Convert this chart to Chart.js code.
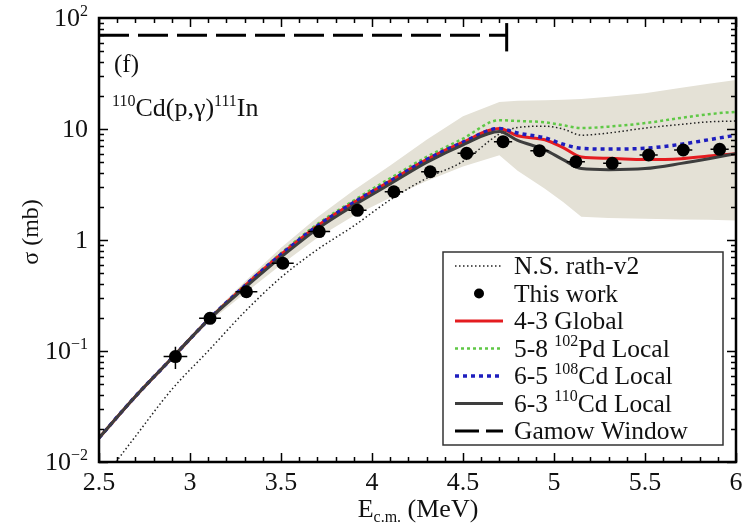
<!DOCTYPE html>
<html>
<head>
<meta charset="utf-8">
<script src="https://cdn.jsdelivr.net/npm/chart.js@4.4.0/dist/chart.umd.min.js"></script>
<style>
  body { margin: 0; background: #fff; }
  #wrap { width: 753px; height: 524px; }
</style>
</head>
<body>
<div id="wrap"><canvas id="sigma" width="753" height="524"></canvas></div>
<script>
// energy grid (MeV, c.m.) shared by the model curves
const energies = [2.5, 2.7, 2.9, 3.1, 3.3, 3.5, 3.7, 3.9, 4.1, 4.3, 4.5, 4.7, 4.8, 4.95, 5.05, 5.15, 5.3, 5.5, 5.7, 5.85, 6.0];

// cross sections in mb
const rathV2     = [0.0063, 0.017, 0.045, 0.10, 0.225, 0.46, 0.82, 1.34, 2.3, 3.6, 5.1, 9.0, 10.3, 10.6, 10.0, 8.8, 9.2, 10.2, 11.0, 11.6, 11.8];
const global43   = [0.0165, 0.039, 0.086, 0.19, 0.385, 0.74, 1.34, 2.18, 3.4, 5.3, 7.6, 10.1, 8.7, 8.0, 6.8, 5.6, 5.45, 5.3, 5.4, 5.7, 6.0];
const pd102Local = [0.0165, 0.039, 0.086, 0.19, 0.39, 0.76, 1.39, 2.27, 3.6, 5.6, 8.2, 12.0, 11.8, 11.5, 10.8, 10.2, 10.5, 11.3, 12.6, 13.6, 14.3];
const cd108Local = [0.0165, 0.039, 0.086, 0.19, 0.385, 0.74, 1.34, 2.18, 3.4, 5.3, 7.6, 10.1, 9.2, 8.3, 7.3, 6.7, 6.6, 6.7, 7.3, 8.0, 8.8];
const cd110Local = [0.0165, 0.039, 0.086, 0.19, 0.37, 0.70, 1.26, 2.05, 3.2, 5.0, 7.2, 9.5, 7.9, 6.5, 5.3, 4.4, 4.3, 4.4, 4.9, 5.4, 6.0];
const bandUpper  = [0.0165, 0.039, 0.088, 0.20, 0.42, 0.85, 1.6, 2.8, 4.7, 8.0, 13.0, 17.5, 18.0, 18.2, 18.3, 18.6, 19.5, 21.0, 23.5, 25.5, 27.6];
const bandLower  = [0.0165, 0.038, 0.084, 0.18, 0.33, 0.60, 1.05, 1.65, 2.4, 3.4, 4.6, 5.8, 4.2, 2.9, 2.2, 1.62, 1.58, 1.55, 1.53, 1.52, 1.5];

// measured points
const expEnergy    = [2.92, 3.11, 3.31, 3.51, 3.71, 3.92, 4.12, 4.32, 4.52, 4.72, 4.92, 5.12, 5.32, 5.52, 5.71, 5.91];
const expSigma     = [0.089, 0.197, 0.342, 0.617, 1.19, 1.85, 2.72, 4.12, 6.04, 7.69, 6.38, 5.07, 4.91, 5.83, 6.47, 6.56];
const expEnergyErr = [0.065, 0.06, 0.06, 0.06, 0.06, 0.05, 0.05, 0.05, 0.05, 0.05, 0.05, 0.05, 0.05, 0.05, 0.05, 0.05];
const expSigmaErr  = [0.02, 0.02, 0.03, 0.05, 0.08, 0.12, 0.17, 0.25, 0.35, 0.45, 0.4, 0.3, 0.3, 0.35, 0.4, 0.4];

// Gamow window marker
const gamowEnergy = [2.5, 4.74];
const gamowSigma  = [70, 70];
const gamowEdgeE  = [4.74, 4.74];
const gamowEdgeS  = [50, 90];

const xTicks = [2.5, 3, 3.5, 4, 4.5, 5, 5.5, 6];
const xTickLabels = ['2.5', '3', '3.5', '4', '4.5', '5', '5.5', '6'];
const yTicks = [0.01, 0.1, 1, 10, 100];
const yTickLabels = [
  [['10', ''], ['\u22122', 'sup']],
  [['10', ''], ['\u22121', 'sup']],
  [['1', '']],
  [['10', '']],
  [['10', ''], ['2', 'sup']]
];

const SERIF = '"Liberation Serif", "DejaVu Serif", serif';

function pairs(xs, ys) {
  return xs.map((x, i) => ({ x: x, y: ys[i] }));
}

function fontFor(kind, size) {
  return (kind ? Math.round(size * 0.62) : size) + 'px ' + SERIF;
}

function richWidth(ctx, parts, size) {
  let w = 0;
  parts.forEach(p => { ctx.font = fontFor(p[1], size); w += ctx.measureText(p[0]).width; });
  return w;
}

// draws text runs with super/subscripts on one baseline
function drawRich(ctx, parts, x, y, size, align) {
  const w = richWidth(ctx, parts, size);
  let cx = align === 'center' ? x - w / 2 : align === 'right' ? x - w : x;
  ctx.textAlign = 'left';
  ctx.textBaseline = 'alphabetic';
  parts.forEach(p => {
    ctx.font = fontFor(p[1], size);
    const dy = p[1] === 'sup' ? -size * 0.4 : p[1] === 'sub' ? size * 0.2 : 0;
    ctx.fillText(p[0], cx, y + dy);
    cx += ctx.measureText(p[0]).width;
  });
}

const styles = {
  rath:  { borderColor: '#222', borderWidth: 1.5, borderDash: [1.5, 2.5] },
  glob:  { borderColor: 'rgb(228,28,32)', borderWidth: 3 },
  pd102: { borderColor: 'rgb(95,200,70)', borderWidth: 2.5, borderDash: [3, 3] },
  cd108: { borderColor: 'rgb(30,30,190)', borderWidth: 3.5, borderDash: [4, 4] },
  cd110: { borderColor: 'rgb(62,62,62)', borderWidth: 3 },
  gamow: { borderColor: '#000', borderWidth: 3, borderDash: [30, 9] }
};

const legendRows = [
  { key: 'rath', text: [['N.S. rath-v2', '']] },
  { key: 'dot', text: [['This work', '']] },
  { key: 'glob', text: [['4-3 Global', '']] },
  { key: 'pd102', text: [['5-8 ', ''], ['102', 'sup'], ['Pd Local', '']] },
  { key: 'cd108', text: [['6-5 ', ''], ['108', 'sup'], ['Cd Local', '']] },
  { key: 'cd110', text: [['6-3 ', ''], ['110', 'sup'], ['Cd Local', '']] },
  { key: 'gamow', text: [['Gamow Window', '']] }
];

const framePlugin = {
  id: 'frame',
  afterDatasetsDraw(chart) {
    const ctx = chart.ctx;
    const xs = chart.scales.x, ys = chart.scales.y;
    // error bars on the measured points
    ctx.save();
    ctx.strokeStyle = '#000';
    ctx.lineWidth = 1.5;
    expEnergy.forEach((e, i) => {
      const px = xs.getPixelForValue(e), py = ys.getPixelForValue(expSigma[i]);
      const x0 = xs.getPixelForValue(e - expEnergyErr[i]), x1 = xs.getPixelForValue(e + expEnergyErr[i]);
      const y0 = ys.getPixelForValue(expSigma[i] - expSigmaErr[i]), y1 = ys.getPixelForValue(expSigma[i] + expSigmaErr[i]);
      ctx.beginPath();
      ctx.moveTo(x0, py); ctx.lineTo(x1, py);
      ctx.moveTo(px, y0); ctx.lineTo(px, y1);
      ctx.stroke();
    });
    ctx.restore();
  },
  afterDraw(chart) {
    const ctx = chart.ctx;
    const a = chart.chartArea;
    const xs = chart.scales.x, ys = chart.scales.y;
    ctx.save();
    ctx.strokeStyle = '#000';
    ctx.fillStyle = '#111';

    // inward ticks, top and bottom
    ctx.lineWidth = 1.5;
    ctx.beginPath();
    for (let k = 0; k <= 35; k++) {
      const v = 2.5 + k * 0.1;
      const px = Math.round(xs.getPixelForValue(v)) + 0.5;
      const len = k % 5 === 0 ? 9 : 5;
      ctx.moveTo(px, a.bottom); ctx.lineTo(px, a.bottom - len);
      ctx.moveTo(px, a.top); ctx.lineTo(px, a.top + len);
    }
    // log ticks, left and right
    for (let d = -2; d < 2; d++) {
      for (let m = 1; m <= 9; m++) {
        const py = Math.round(ys.getPixelForValue(m * Math.pow(10, d))) + 0.5;
        const len = m === 1 ? 9 : 5;
        ctx.moveTo(a.left, py); ctx.lineTo(a.left + len, py);
        ctx.moveTo(a.right, py); ctx.lineTo(a.right - len, py);
      }
    }
    ctx.stroke();

    // plot frame
    ctx.lineWidth = 2.5;
    ctx.strokeRect(a.left, a.top, a.right - a.left, a.bottom - a.top);

    // tick labels
    xTicks.forEach((v, i) => {
      drawRich(ctx, [[xTickLabels[i], '']], xs.getPixelForValue(v), a.bottom + 28, 26, 'center');
    });
    yTicks.forEach((v, i) => {
      drawRich(ctx, yTickLabels[i], a.left - 11, ys.getPixelForValue(v) + 8, 26, 'right');
    });

    // axis titles
    drawRich(ctx, [['E', ''], ['c.m.', 'sub'], [' (MeV)', '']], 418, 517, 26, 'center');
    ctx.save();
    ctx.translate(38, 232);
    ctx.rotate(-Math.PI / 2);
    drawRich(ctx, [['\u03c3 (mb)', '']], 0, 0, 24, 'center');
    ctx.restore();

    // panel tag and reaction
    drawRich(ctx, [['(f)', '']], 114, 72, 25, 'left');
    drawRich(ctx, [['110', 'sup'], ['Cd(p,\u03b3)', ''], ['111', 'sup'], ['In', '']], 112, 116, 26, 'left');

    // legend box
    const lx = 443, ly = 252, lw = 280, lh = 193;
    ctx.fillStyle = '#fff';
    ctx.fillRect(lx, ly, lw, lh);
    ctx.lineWidth = 1.5;
    ctx.strokeStyle = '#333';
    ctx.strokeRect(lx, ly, lw, lh);
    legendRows.forEach((row, i) => {
      const cy = ly + 14 + i * 27.5;
      ctx.save();
      if (row.key === 'dot') {
        ctx.fillStyle = '#000';
        ctx.beginPath();
        ctx.arc(479, cy, 5, 0, Math.PI * 2);
        ctx.fill();
      } else {
        const st = styles[row.key];
        ctx.strokeStyle = st.borderColor;
        ctx.lineWidth = st.borderWidth;
        ctx.setLineDash(row.key === 'gamow' ? [24, 7] : (st.borderDash || []));
        ctx.beginPath();
        ctx.moveTo(455, cy); ctx.lineTo(503, cy);
        ctx.stroke();
      }
      ctx.restore();
      ctx.fillStyle = '#111';
      drawRich(ctx, row.text, 514, cy + 8, 25.5, 'left');
    });
    ctx.restore();
  }
};

const curve = (data, st, order) => Object.assign({
  data: data,
  pointRadius: 0,
  fill: false,
  cubicInterpolationMode: 'monotone',
  order: order
}, st);

new Chart(document.getElementById('sigma').getContext('2d'), {
  type: 'line',
  data: {
    datasets: [
      {
        label: 'This work',
        data: pairs(expEnergy, expSigma),
        showLine: false,
        pointRadius: 6.5,
        pointBackgroundColor: '#000',
        pointBorderColor: '#000',
        pointBorderWidth: 0,
        order: 0
      },
      Object.assign({ label: 'Gamow Window', data: pairs(gamowEnergy, gamowSigma), pointRadius: 0, fill: false, order: 1 }, styles.gamow),
      { label: 'Gamow edge', data: pairs(gamowEdgeE, gamowEdgeS), pointRadius: 0, borderColor: '#000', borderWidth: 3, fill: false, order: 1 },
      Object.assign({ label: '6-3 110Cd Local' }, curve(pairs(energies, cd110Local), styles.cd110, 2)),
      Object.assign({ label: '6-5 108Cd Local' }, curve(pairs(energies, cd108Local), styles.cd108, 3)),
      Object.assign({ label: '4-3 Global' }, curve(pairs(energies, global43), styles.glob, 4)),
      Object.assign({ label: '5-8 102Pd Local' }, curve(pairs(energies, pd102Local), styles.pd102, 5)),
      Object.assign({ label: 'N.S. rath-v2' }, curve(pairs(energies, rathV2), styles.rath, 6)),
      {
        label: 'band upper',
        data: pairs(energies, bandUpper),
        pointRadius: 0,
        borderWidth: 0,
        borderColor: 'rgba(0,0,0,0)',
        backgroundColor: 'rgb(228,225,214)',
        fill: '+1',
        tension: 0,
        order: 10
      },
      {
        label: 'band lower',
        data: pairs(energies, bandLower),
        pointRadius: 0,
        borderWidth: 0,
        borderColor: 'rgba(0,0,0,0)',
        fill: false,
        tension: 0,
        order: 11
      }
    ]
  },
  options: {
    responsive: false,
    animation: false,
    devicePixelRatio: 1,
    layout: { padding: { left: 99, top: 18, right: 17, bottom: 62 } },
    plugins: { legend: { display: false }, tooltip: { enabled: false } },
    scales: {
      x: { type: 'linear', min: 2.5, max: 6, display: false },
      y: { type: 'logarithmic', min: 0.01, max: 100, display: false }
    }
  },
  plugins: [framePlugin]
});
</script>
</body>
</html>
